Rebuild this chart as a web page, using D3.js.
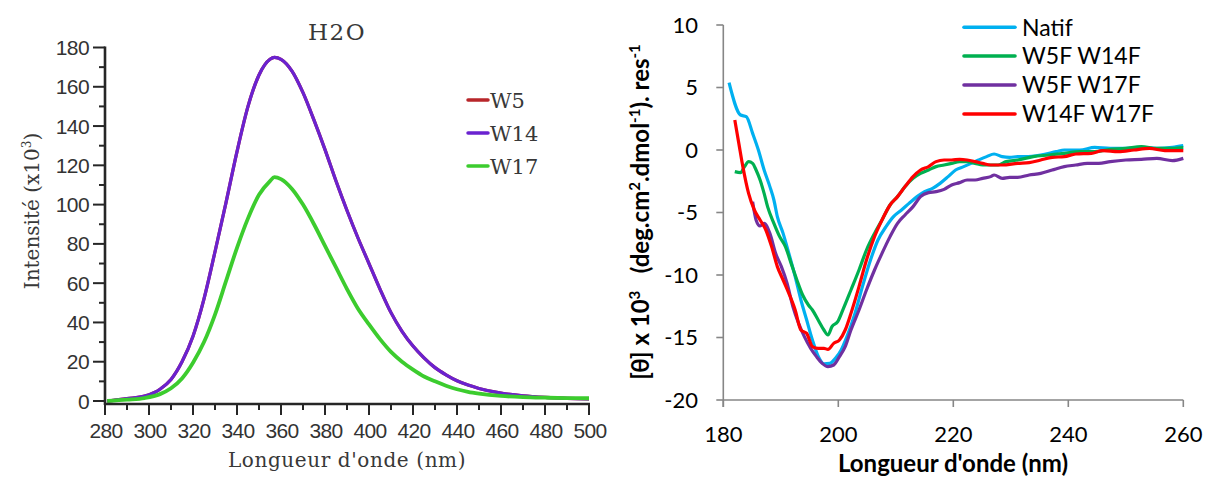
<!DOCTYPE html>
<html><head><meta charset="utf-8">
<script src="https://cdn.jsdelivr.net/npm/d3@7"></script>
<style>body{margin:0;background:#fff;} svg{display:block;}</style>
</head><body>
<svg id="c" width="1206" height="479"></svg>
<script>
// ---------- Left chart data (fluorescence, H2O) ----------
const fluoTitle = "H2O";
const fluoSeries = ["W5", "W14", "W17"];
const fluoColors = ["#b8262a", "#6a22d0", "#3ccc2e"];
const fluoXTicks = [280,300,320,340,360,380,400,420,440,460,480,500];
const fluoYTicks = [0,20,40,60,80,100,120,140,160,180];
const fluoNm  = [281,290,298,305,310,315,320,325,330,335,340,345,350,355,357,360,365,370,375,380,385,390,395,400,405,410,415,420,425,430,435,440,445,450,460,470,480,490,500];
const w14val = [0,1.2,2.5,6,11,20,33,52,76,101,127,150,166,174,175,174,168,157,143,128,112,97,83,70,57,45,35.5,28,22,17,13.3,10.3,8.1,6.4,4,2.6,1.8,1.3,1.1];
const w5val  = [0,1.2,2.5,6,11,20,33,52,76,101,127,150,166,174,175,174,168,157,143,128,112,97,83,70,57,45,35.5,28,22,17,13.3,10.3,8.1,6.4,4,2.6,1.8,1.3,1.1];
const w17val = [0,0.7,1.5,3.5,6.5,11.5,19.5,30,44,61,78,93,105,112,114,113,108,100,90,79,68,57,47,39,31.5,25,20,16,12.5,10,7.8,6,4.7,3.8,2.6,2,1.7,1.5,1.4];

// ---------- Right chart data (circular dichroism) ----------
const cdSeries = ["Natif", "W5F W14F", "W5F W17F", "W14F W17F"];
const cdColors = ["#00b0f0", "#00b050", "#7030a0", "#ff0000"];
const cdXTicks = [180,200,220,240,260];
const cdYTicks = [10,5,0,-5,-10,-15,-20];
const natifNm  = [181,183,184,185.1,186.1,187.1,188.1,188.8,189.4,190.4,191.4,192.5,193.5,194.5,195.5,196.5,197.5,198.5,199.5,200.5,201.5,202.9,204.2,205.6,206.9,208.3,209.6,211,212.3,213.7,215,216.4,217.7,219.1,220.4,221.8,223.1,224.4,225.8,227.1,228.5,229.8,231.2,232.5,235.2,237.9,239.3,242,244.6,247.3,250,252.7,255.4,258.1,260];
const natifVal = [5.39,2.8,2.67,1.33,0,-1.6,-2.93,-4,-5.33,-6.67,-8.27,-10.13,-12,-13.6,-15.2,-16.5,-17.1,-17.07,-16.67,-16,-14.93,-13.07,-10.93,-8.8,-7.2,-6.13,-5.33,-4.8,-4.27,-3.73,-3.33,-3.07,-2.67,-2.13,-1.6,-1.33,-1.07,-0.8,-0.53,-0.32,-0.53,-0.59,-0.53,-0.53,-0.4,-0.13,0,0,0.21,0.13,0.13,0.21,0.13,0.21,0.35];
const w5w14Nm  = [182,183,183.7,184.4,185.1,185.7,186.4,187.1,187.7,188.8,189.8,190.8,191.8,192.8,193.8,194.8,195.5,196.5,197.5,198.2,198.9,199.9,200.9,202.2,203.6,204.9,206.3,207.6,209,210.3,211.6,213,214.3,215.7,217,218.4,219.7,221.1,222.4,223.8,225.1,226.5,227.8,229.2,231.2,233.9,236.6,239.3,242,244.6,247.3,250,252.7,255.4,258.1,260];
const w5w14Val = [-1.73,-1.81,-1.33,-0.93,-1.07,-1.6,-2.4,-3.47,-4.53,-5.87,-6.93,-7.73,-9.07,-10.4,-11.6,-12.4,-12.8,-13.6,-14.4,-14.8,-14.13,-13.73,-12.67,-11.2,-9.6,-8,-6.67,-5.6,-4.4,-3.73,-2.93,-2.27,-1.87,-1.6,-1.33,-1.2,-1.07,-0.93,-0.93,-1.07,-1.2,-1.2,-1.2,-0.93,-0.8,-0.53,-0.4,-0.27,-0.13,-0.13,0.05,0.13,0.27,0.13,0.13,0.19];
const w5w17Nm  = [185.1,185.7,186.4,187.1,188.1,189.1,190.1,191.1,192.1,193.1,194.1,195.2,196.2,197.2,198.2,199.2,200.2,201.2,202.2,203.6,204.9,206.3,207.6,209,210.3,211.6,213,214.3,215.7,217,218.4,219.7,221.1,222.4,223.8,225.1,226.5,227.1,228.5,229.8,231.2,233.2,235.2,237.2,239.3,241.3,243.3,245.3,247.3,250,252.7,255.4,258.1,260];
const w5w17Val = [-4.13,-5.6,-6.08,-5.87,-6.67,-8.27,-9.33,-10.67,-12.53,-13.87,-14.93,-15.87,-16.53,-17.07,-17.33,-17.2,-16.53,-15.73,-14.4,-12.8,-11.2,-9.6,-8.27,-6.93,-5.87,-5.2,-4.53,-3.73,-3.41,-3.33,-3.15,-2.8,-2.61,-2.4,-2.4,-2.27,-2.13,-2,-2.27,-2.19,-2.19,-2,-1.87,-1.6,-1.33,-1.2,-1.07,-1.07,-0.93,-0.8,-0.75,-0.67,-0.85,-0.67];
const w14w17Nm  = [182,182.7,183.4,184.4,185.4,186.4,187.4,188.4,189.4,190.4,191.4,192.5,193.5,194.5,195.5,196.5,197.5,198.2,199.2,200.2,201.2,202.2,203.6,204.9,206.3,207.6,209,210.3,211.6,213,214.3,215.7,217,218.4,219.7,221.1,222.4,223.8,225.1,226.5,228.5,231.2,233.2,235.2,237.2,239.3,241.3,244,246,248.7,251.4,254.1,256.8,260];
const w14w17Val = [2.4,0.53,-1.33,-3.47,-4.8,-5.6,-6.4,-7.73,-9.33,-10.4,-11.47,-12.8,-14.4,-14.67,-15.73,-15.87,-15.87,-15.95,-15.47,-15.2,-14.4,-13.07,-10.93,-8.8,-6.93,-5.6,-4.4,-3.73,-2.93,-2.13,-1.6,-1.33,-0.93,-0.8,-0.8,-0.75,-0.8,-0.93,-1.07,-1.2,-1.2,-1.07,-1.01,-0.8,-0.59,-0.53,-0.32,-0.27,-0.05,-0.13,0,0.13,-0.05,-0.05];

const svg = d3.select("#c");

// ================= LEFT CHART =================
(function(){
  const L = svg.append("g");
  const x = d3.scaleLinear().domain([280,500]).range([105,589]);
  const y = d3.scaleLinear().domain([0,180]).range([401,47.5]);
  const axisY = y(0) + 3;
  const ink = "#262626";
  const serif = "'DejaVu Serif', 'Liberation Serif', serif";
  const sans = "'Liberation Sans', Arial, sans-serif";
  const txt = "#383838";

  const line = d3.line().x(d=>x(d[0])).y(d=>y(d[1])).curve(d3.curveMonotoneX);
  const seriesData = [
    fluoNm.map((n,i)=>[n,w5val[i]]),
    fluoNm.map((n,i)=>[n,w14val[i]]),
    fluoNm.map((n,i)=>[n,w17val[i]])
  ];
  seriesData.forEach((d,i)=>{
    L.append("path").attr("d",line(d)).attr("fill","none")
      .attr("stroke",fluoColors[i]).attr("stroke-width", i===2?3.8:3.2)
      .attr("stroke-linejoin","round");
  });

  // y axis
  L.append("line").attr("x1",x(280)).attr("x2",x(280)).attr("y1",y(180)-1).attr("y2",axisY+1)
    .attr("stroke",ink).attr("stroke-width",2.6);
  const yMinor = d3.range(10,180,20);
  L.selectAll(".ymaj").data(fluoYTicks).enter().append("line")
    .attr("x1",x(280)-12).attr("x2",x(280)).attr("y1",d=>y(d)).attr("y2",d=>y(d))
    .attr("stroke",ink).attr("stroke-width",2);
  L.selectAll(".ymin").data(yMinor).enter().append("line")
    .attr("x1",x(280)-6).attr("x2",x(280)).attr("y1",d=>y(d)).attr("y2",d=>y(d))
    .attr("stroke",ink).attr("stroke-width",2);
  L.selectAll(".ylab").data(fluoYTicks).enter().append("text")
    .attr("x",89).attr("y",d=>y(d)).attr("dy","0.36em").attr("text-anchor","end")
    .attr("font-family",sans).attr("font-size",21).attr("fill","#333")
    .attr("letter-spacing","-0.6").text(d=>d);

  // x axis
  L.append("line").attr("x1",x(280)-1).attr("x2",x(500)+1).attr("y1",axisY).attr("y2",axisY)
    .attr("stroke",ink).attr("stroke-width",2.6);
  const xMinor = d3.range(290,500,20);
  L.selectAll(".xmaj").data(fluoXTicks).enter().append("line")
    .attr("x1",d=>x(d)).attr("x2",d=>x(d)).attr("y1",axisY).attr("y2",axisY+11)
    .attr("stroke",ink).attr("stroke-width",2);
  L.selectAll(".xmin").data(xMinor).enter().append("line")
    .attr("x1",d=>x(d)).attr("x2",d=>x(d)).attr("y1",axisY).attr("y2",axisY+6)
    .attr("stroke",ink).attr("stroke-width",2);
  L.selectAll(".xlab").data(fluoXTicks).enter().append("text")
    .attr("x",d=>x(d)+1).attr("y",438).attr("text-anchor","middle")
    .attr("font-family",sans).attr("font-size",21).attr("fill","#333")
    .attr("letter-spacing","-0.7").text(d=>d);

  // titles
  L.append("text").attr("x",337).attr("y",40).attr("text-anchor","middle")
    .attr("font-family",serif).attr("font-size",23).attr("fill",txt)
    .attr("letter-spacing","1.5").text(fluoTitle);
  L.append("text").attr("x",347).attr("y",467).attr("text-anchor","middle")
    .attr("font-family",serif).attr("font-size",20).attr("fill",txt)
    .attr("letter-spacing","0.6").text("Longueur d'onde (nm)");
  const yt = L.append("text").attr("transform","translate(39,211) rotate(-90)")
    .attr("text-anchor","middle").attr("font-family",serif).attr("font-size",20).attr("fill",txt);
  yt.append("tspan").text("Intensité (x10");
  yt.append("tspan").attr("font-size",12).attr("dy",-8).text("3");
  yt.append("tspan").attr("dy",8).text(")");

  // legend
  const legY = [100,133,166];
  fluoSeries.forEach((s,i)=>{
    L.append("line").attr("x1",468).attr("x2",488).attr("y1",legY[i]).attr("y2",legY[i])
      .attr("stroke",fluoColors[i]).attr("stroke-width",3.5).attr("stroke-linecap","round");
    L.append("text").attr("x",490).attr("y",legY[i]).attr("dy","0.36em")
      .attr("font-family",serif).attr("font-size",21).attr("fill",txt).text(s);
  });
})();

// ================= RIGHT CHART =================
(function(){
  const R = svg.append("g");
  const x = d3.scaleLinear().domain([180,260]).range([723.3,1183.3]);
  const y = d3.scaleLinear().domain([-20,10]).range([400,25]);
  const axc = "#868686";
  const font = "Lato, 'Open Sans', sans-serif";

  const line = d3.line().x(d=>x(d[0])).y(d=>y(d[1])).curve(d3.curveMonotoneX);
  const data = [
    natifNm.map((n,i)=>[n,natifVal[i]]),
    w5w14Nm.map((n,i)=>[n,w5w14Val[i]]),
    w5w17Nm.map((n,i)=>[n,w5w17Val[i]]),
    w14w17Nm.map((n,i)=>[n,w14w17Val[i]])
  ];

  R.append("line").attr("x1",x(180)).attr("x2",x(180)).attr("y1",y(10)).attr("y2",y(-20)+7)
    .attr("stroke",axc).attr("stroke-width",1.6);
  R.append("line").attr("x1",x(180)).attr("x2",x(260)).attr("y1",y(-20)).attr("y2",y(-20))
    .attr("stroke",axc).attr("stroke-width",1.6);
  R.selectAll(".yt").data(cdYTicks).enter().append("line")
    .attr("x1",x(180)-7).attr("x2",x(180)).attr("y1",d=>y(d)).attr("y2",d=>y(d))
    .attr("stroke",axc).attr("stroke-width",1.6);
  R.selectAll(".xt").data(cdXTicks).enter().append("line")
    .attr("x1",d=>x(d)).attr("x2",d=>x(d)).attr("y1",y(-20)).attr("y2",y(-20)+7)
    .attr("stroke",axc).attr("stroke-width",1.6);
  R.selectAll(".yl").data(cdYTicks).enter().append("text")
    .attr("x",698).attr("y",d=>y(d)).attr("dy","0.36em").attr("text-anchor","end")
    .attr("font-family",font).attr("font-size",22).attr("fill","#000").text(d=>d);
  R.selectAll(".xl").data(cdXTicks).enter().append("text")
    .attr("x",d=>x(d)).attr("y",442).attr("text-anchor","middle")
    .attr("font-family",font).attr("font-size",22).attr("fill","#000").text(d=>d);

  data.forEach((d,i)=>{
    R.append("path").attr("d",line(d)).attr("fill","none")
      .attr("stroke",cdColors[i]).attr("stroke-width",3.2).attr("stroke-linejoin","round");
  });

  R.append("text").attr("x",953).attr("y",472).attr("text-anchor","middle")
    .attr("font-family",font).attr("font-weight","bold").attr("font-size",24).attr("fill","#000")
    .text("Longueur d'onde (nm)");
  const yt = R.append("text").attr("transform","translate(649,212) rotate(-90)")
    .attr("text-anchor","middle").attr("font-family",font).attr("font-weight","bold")
    .attr("font-size",24).attr("fill","#000");
  yt.append("tspan").text("[θ] x 10");
  yt.append("tspan").attr("font-size",15).attr("dy",-9).text("3");
  yt.append("tspan").attr("dy",9).attr("xml:space","preserve").text("   (deg.cm");
  yt.append("tspan").attr("font-size",15).attr("dy",-9).text("2");
  yt.append("tspan").attr("dy",9).text(".dmol");
  yt.append("tspan").attr("font-size",15).attr("dy",-9).text("-1");
  yt.append("tspan").attr("dy",9).text("). res");
  yt.append("tspan").attr("font-size",15).attr("dy",-9).text("-1");

  const legY = [27.3,56,85,114];
  cdSeries.forEach((s,i)=>{
    R.append("line").attr("x1",964).attr("x2",1015).attr("y1",legY[i]).attr("y2",legY[i])
      .attr("stroke",cdColors[i]).attr("stroke-width",3.6).attr("stroke-linecap","round");
    R.append("text").attr("x",1022).attr("y",legY[i]).attr("dy","0.36em")
      .attr("font-family",font).attr("font-size",23).attr("fill","#000").text(s);
  });
})();
</script>
</body></html>
